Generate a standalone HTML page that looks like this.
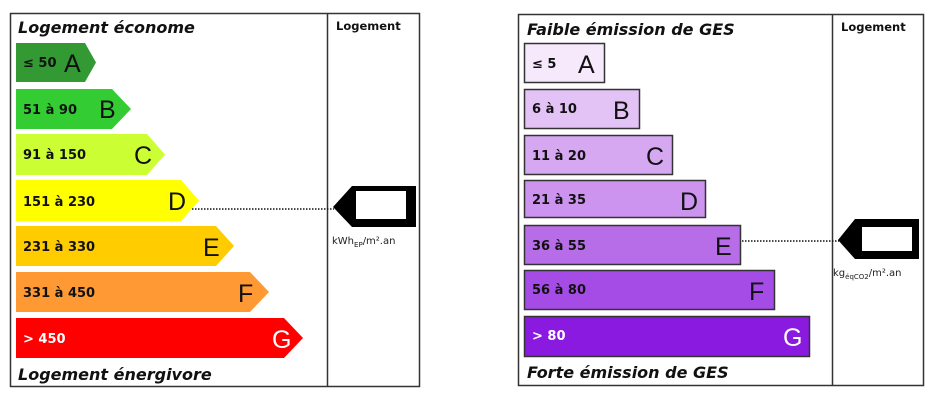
<!DOCTYPE html>
<html><head><meta charset="utf-8"><style>
html,body{margin:0;padding:0;background:#fff;}
svg{display:block;}
text{font-family:"DejaVu Sans","Liberation Sans",sans-serif;}
.t{font-weight:bold;font-style:italic;font-size:16px;fill:#111;}
.r{font-weight:bold;font-size:13px;fill:#111;}
.L{font-family:"Liberation Sans",sans-serif;font-size:25px;fill:#111;}
.h{font-weight:bold;font-size:11.5px;fill:#111;}
.u{font-size:10px;fill:#222;}
</style></head><body>
<svg width="939" height="411" viewBox="0 0 939 411" xmlns="http://www.w3.org/2000/svg">
<!-- LEFT -->
<rect x="10.5" y="13.5" width="409" height="373" fill="none" stroke="#333" stroke-width="1.5"/>
<line x1="327.5" y1="13" x2="327.5" y2="387" stroke="#333" stroke-width="1.5"/>
<text class="t" x="18" y="33">Logement économe</text>
<text class="h" x="336" y="30">Logement</text>
<polygon points="16,43 85,43 96,62.5 85,82 16,82" fill="#339933"/>
<polygon points="16,89 112,89 131,109 112,129 16,129" fill="#33cc33"/>
<polygon points="16,134 147,134 165,154.5 147,175 16,175" fill="#ccff33"/>
<polygon points="16,180 181,180 199,200.5 181,221 16,221" fill="#ffff00"/>
<polygon points="16,226 216,226 234,246 216,266 16,266" fill="#ffcc00"/>
<polygon points="16,272 250,272 269,292 250,312 16,312" fill="#ff9933"/>
<polygon points="16,318 284,318 303,338 284,358 16,358" fill="#ff0000"/>
<text class="r" x="23" y="67">≤ 50</text><text class="L" x="64" y="72">A</text>
<text class="r" x="23" y="114">51 à 90</text><text class="L" x="99" y="118">B</text>
<text class="r" x="23" y="159">91 à 150</text><text class="L" x="134" y="164">C</text>
<text class="r" x="23" y="206">151 à 230</text><text class="L" x="168" y="210">D</text>
<text class="r" x="23" y="251">231 à 330</text><text class="L" x="203" y="256">E</text>
<text class="r" x="23" y="297">331 à 450</text><text class="L" x="238" y="302">F</text>
<text class="r" x="23" y="343" style="fill:#fff">&gt; 450</text><text class="L" x="272" y="348" style="fill:#fff">G</text>
<line x1="192" y1="209" x2="334" y2="209" stroke="#111" stroke-width="1.5" stroke-dasharray="1.5,1.5"/>
<polygon points="333,207 352,186 416,186 416,227 352,227" fill="#000"/>
<rect x="356" y="191" width="50" height="28" fill="#fff"/>
<text class="u" x="332" y="244">kWh<tspan font-size="7" dy="3">EP</tspan><tspan dy="-3">/m².an</tspan></text>
<text class="t" x="18" y="380">Logement énergivore</text>

<!-- RIGHT -->
<rect x="518.5" y="14.5" width="405" height="371" fill="none" stroke="#333" stroke-width="1.5"/>
<line x1="832.5" y1="14" x2="832.5" y2="386" stroke="#333" stroke-width="1.5"/>
<text class="t" x="527" y="35">Faible émission de GES</text>
<text class="h" x="841" y="31">Logement</text>
<g stroke="#333" stroke-width="1.5">
<rect x="524.5" y="43.5" width="80" height="39" fill="#f6e9fb"/>
<rect x="524.5" y="89.5" width="115" height="39" fill="#e3c3f5"/>
<rect x="524.5" y="135.5" width="148" height="39" fill="#d7a8f2"/>
<rect x="524.5" y="180.5" width="181" height="37" fill="#cc93ef"/>
<rect x="524.5" y="225.5" width="216" height="39" fill="#b76de8"/>
<rect x="524.5" y="270.5" width="250" height="39" fill="#a64ce6"/>
<rect x="524.5" y="316.5" width="285" height="40" fill="#8a1adf"/>
</g>
<text class="r" x="532" y="68">≤ 5</text><text class="L" x="578" y="73">A</text>
<text class="r" x="532" y="113">6 à 10</text><text class="L" x="613" y="119">B</text>
<text class="r" x="532" y="160">11 à 20</text><text class="L" x="646" y="165">C</text>
<text class="r" x="532" y="204">21 à 35</text><text class="L" x="680" y="210">D</text>
<text class="r" x="532" y="250">36 à 55</text><text class="L" x="715" y="255">E</text>
<text class="r" x="532" y="294">56 à 80</text><text class="L" x="749" y="300">F</text>
<text class="r" x="532" y="340" style="fill:#fff">&gt; 80</text><text class="L" x="783" y="346" style="fill:#fff">G</text>
<line x1="742" y1="241" x2="839" y2="241" stroke="#111" stroke-width="1.5" stroke-dasharray="1.5,1.5"/>
<polygon points="838,240 855,219 919,219 919,259 855,259" fill="#000"/>
<rect x="862" y="227" width="50" height="24" fill="#fff"/>
<text class="u" x="833" y="276">kg<tspan font-size="7" dy="3">éqCO2</tspan><tspan dy="-3">/m².an</tspan></text>
<text class="t" x="527" y="378">Forte émission de GES</text>
</svg>
</body></html>
